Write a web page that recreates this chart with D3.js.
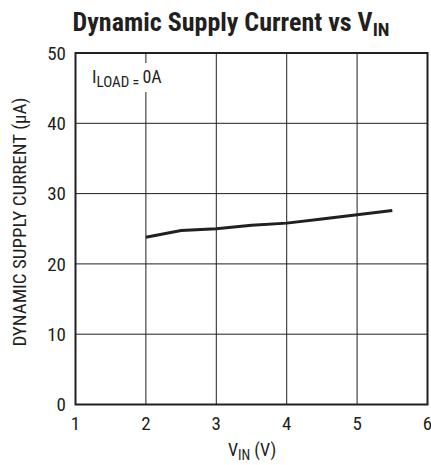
<!DOCTYPE html>
<html><head><meta charset="utf-8">
<script src="https://cdn.jsdelivr.net/npm/d3@7"></script>
<style>
body{margin:0;background:#fff;}
text{font-family:"Liberation Sans Narrow","Roboto Condensed","Arial Narrow",sans-serif;fill:#231f20;}
</style></head>
<body><svg id="c" width="431" height="465"></svg>
<script>
const vin = [2, 2.5, 3, 3.5, 4, 4.5, 5, 5.5];
const current = [23.8, 24.75, 25.0, 25.5, 25.8, 26.4, 27.0, 27.6];
const xTicks = [1, 2, 3, 4, 5, 6];
const yTicks = [0, 10, 20, 30, 40, 50];

const svg = d3.select("#c");
const L = 75.5, R = 427.5, T = 53, B = 404.5;
const x = d3.scaleLinear().domain([1, 6]).range([L, R]);
const y = d3.scaleLinear().domain([0, 50]).range([B, T]);

// grid
svg.append("g").selectAll("line").data(xTicks.slice(1, -1)).join("line")
  .attr("x1", d => x(d)).attr("x2", d => x(d)).attr("y1", T).attr("y2", B)
  .attr("stroke", "#231f20").attr("stroke-width", 1);
svg.append("g").selectAll("line").data(yTicks.slice(1, -1)).join("line")
  .attr("y1", d => y(d)).attr("y2", d => y(d)).attr("x1", L).attr("x2", R)
  .attr("stroke", "#231f20").attr("stroke-width", 1);

// annotation background
svg.append("rect").attr("x", 88).attr("y", 63).attr("width", 82).attr("height", 29).attr("fill", "#fff");
const ann = svg.append("text").attr("x", 92).attr("y", 83).attr("font-size", 18);
ann.append("tspan").text("I");
ann.append("tspan").text("LOAD").attr("font-size", 15).attr("dy", 4);
ann.append("tspan").text(" = ").attr("font-size", 14);
ann.append("tspan").text("0A").attr("font-size", 18).attr("dy", -4);

// frame
svg.append("rect").attr("x", L).attr("y", T).attr("width", R - L).attr("height", B - T)
  .attr("fill", "none").attr("stroke", "#231f20").attr("stroke-width", 2);

// data line
svg.append("path").datum(vin.map((v, i) => [v, current[i]]))
  .attr("d", d3.line().x(d => x(d[0])).y(d => y(d[1])))
  .attr("fill", "none").attr("stroke", "#231f20").attr("stroke-width", 3);

// tick labels
svg.append("g").selectAll("text").data(yTicks).join("text")
  .attr("x", 66).attr("y", d => y(d)).attr("dy", "0.36em").attr("text-anchor", "end")
  .attr("font-size", 19).text(d => d);
svg.append("g").selectAll("text").data(xTicks).join("text")
  .attr("x", d => x(d)).attr("y", 430).attr("text-anchor", "middle")
  .attr("font-size", 19).text(d => d);

// axis titles
const xt = svg.append("text").attr("x", 252).attr("y", 456).attr("text-anchor", "middle").attr("font-size", 18);
xt.append("tspan").text("V");
xt.append("tspan").text("IN").attr("font-size", 14).attr("dy", 4);
xt.append("tspan").text(" (V)").attr("dy", -4);

svg.append("text").attr("transform", "translate(26,222) rotate(-90)").attr("text-anchor", "middle")
  .attr("font-size", 19).text("DYNAMIC SUPPLY CURRENT (µA)");

// title
const tt = svg.append("text").attr("x", 231).attr("y", 31).attr("text-anchor", "middle")
  .attr("font-size", 26).attr("font-weight", "bold");
tt.append("tspan").text("Dynamic Supply Current vs V");
tt.append("tspan").text("IN").attr("font-size", 19).attr("dy", 5);
</script></body></html>
